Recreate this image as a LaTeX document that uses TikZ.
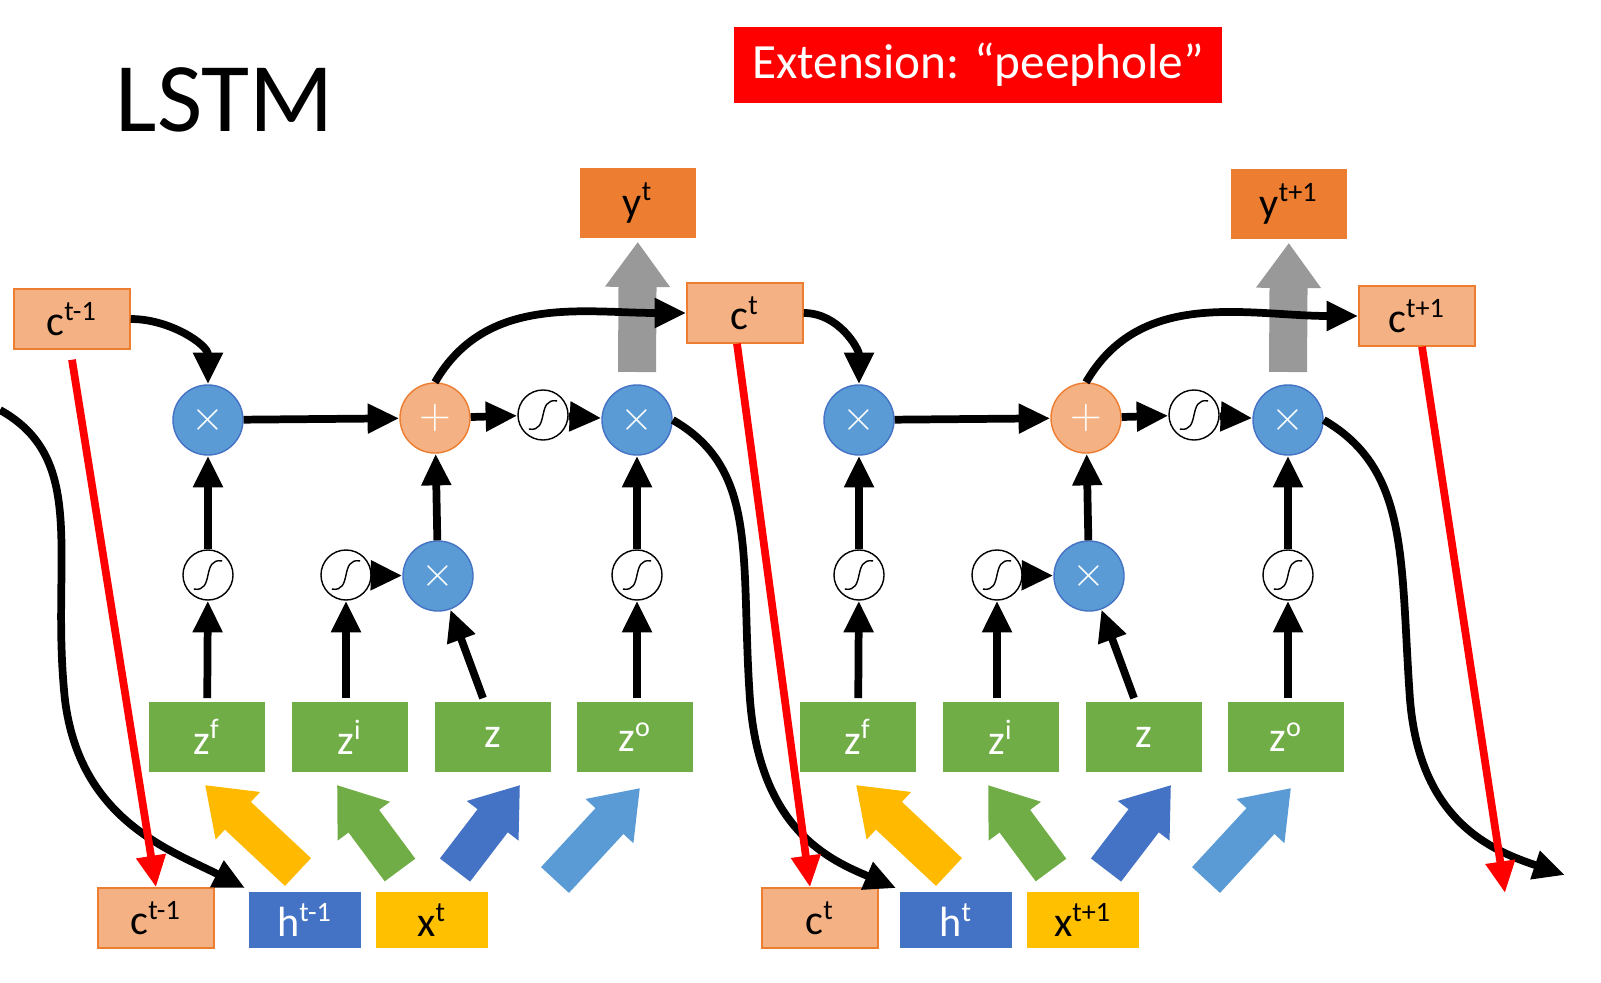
\documentclass[tikz,border=0pt]{standalone}
\usepackage{fontspec}
\setmainfont{Carlito}
\usetikzlibrary{arrows.meta,positioning}
\definecolor{cellfill}{HTML}{F4B183}
\definecolor{cellline}{HTML}{ED7D31}
\definecolor{gatefill}{HTML}{70AD47}
\definecolor{opblue}{HTML}{5B9BD5}
\definecolor{hblue}{HTML}{4472C4}
\definecolor{xyellow}{HTML}{FFC000}
\begin{document}
\begin{tikzpicture}[
            x=0.01cm, y=-0.01cm,
            > = {Triangle[length=9pt,width=8pt]}, % arrow head style
            line width=2.2pt,
            font=\fontsize{12}{14}\selectfont
        ]

        \tikzset{
            cell/.style = {draw=cellline, thin, fill=cellfill, minimum width=1.16cm, minimum height=0.6cm, inner sep=0pt},
            outy/.style = {fill=cellline, minimum width=1.16cm, minimum height=0.7cm, inner sep=0pt},
            gate/.style = {fill=gatefill, text=white, minimum width=1.16cm, minimum height=0.7cm, inner sep=0pt},
            inh/.style = {fill=hblue, text=white, minimum width=1.12cm, minimum height=0.56cm, inner sep=0pt},
            inx/.style = {fill=xyellow, minimum width=1.12cm, minimum height=0.56cm, inner sep=0pt},
            op/.style = {circle, fill=opblue, draw=hblue, thin, text=white, minimum size=0.7cm, inner sep=0pt},
            plus/.style = {circle, fill=cellfill, draw=cellline, thin, text=white, minimum size=0.7cm, inner sep=0pt},
            sig/.style = {circle, draw=black, thin, fill=white, minimum size=0.5cm, inner sep=0pt,
                path picture={\draw[thin] ([xshift=-4pt,yshift=-4pt]path picture bounding box.center) .. controls ([xshift=2pt,yshift=-5pt]path picture bounding box.center) and ([xshift=-2pt,yshift=5pt]path picture bounding box.center) .. ([xshift=4pt,yshift=4pt]path picture bounding box.center);}},
            fat/.style = {line width=0.38cm, -{Triangle[length=0.45cm,width=0.62cm]}, draw=#1},
            peep/.style = {red, line width=2.2pt, -{Triangle[length=9pt,width=8pt]}}
        }
        \useasboundingbox (0,0) rectangle (1601,982);

        \node (title) at (225,100) {\fontsize{28}{30}\selectfont LSTM};
        \node[fill=red, text=white, minimum width=4.87cm, minimum height=0.75cm] (ext) at (978,65) {\fontsize{14}{16}\selectfont Extension: “peephole”};

        % outputs and cell states
        \node[outy] (y1) at (638,203) {y\textsuperscript{t}};
        \node[outy] (y2) at (1289,204) {y\textsuperscript{t+1}};
        \node[cell] (c0) at (72,319) {c\textsuperscript{t-1}};
        \node[cell] (c1) at (745,313) {c\textsuperscript{t}};
        \node[cell] (c2) at (1417,316) {c\textsuperscript{t+1}};

        \foreach \b/\dx/\ct/\cn/\hn/\xn/\yn in {1/0/c0/c1/t-1/t/y1, 2/651/c1/c2/t/t+1/y2}{
            \node[op]   (f\b) at (208+\dx,420) {$\times$};
            \node[plus] (p\b) at (435+\dx,418) {$+$};
            \node[op]   (o\b) at (637+\dx,420) {$\times$};
            \node[op]   (i\b) at (438+\dx,576) {$\times$};
            \node[sig]  (sf\b) at (208+\dx,575) {};
            \node[sig]  (si\b) at (346+\dx,575) {};
            \node[sig]  (so\b) at (637+\dx,575) {};
            \node[sig]  (sc\b) at (543+\dx,415) {};
            \node[gate] (zf\b) at (207+\dx,737) {z\textsuperscript{f}};
            \node[gate] (zi\b) at (350+\dx,737) {z\textsuperscript{i}};
            \node[gate] (zz\b) at (493+\dx,737) {z};
            \node[gate] (zo\b) at (635+\dx,737) {z\textsuperscript{o}};
            \node[cell] (bc\b) at (156+1.02*\dx,918) {c\textsuperscript{\hn}};
            \node[inh]  (bh\b) at (305+\dx,920) {h\textsuperscript{\hn}};
            \node[inx]  (bx\b) at (432+\dx,920) {x\textsuperscript{\xn}};

            % fat input arrows
            \coordinate (a1s\b) at (298+\dx,872); \coordinate (a1e\b) at (205+\dx,785);
            \coordinate (a2s\b) at (400+\dx,870); \coordinate (a2e\b) at (337+\dx,785);
            \coordinate (a3s\b) at (455+\dx,870); \coordinate (a3e\b) at (520+\dx,785);
            \coordinate (a4s\b) at (555+\dx,880); \coordinate (a4e\b) at (640+\dx,788);
            \draw[fat=xyellow!90!orange] (a1s\b) -- (a1e\b);
            \draw[fat=gatefill] (a2s\b) -- (a2e\b);
            \draw[fat=hblue] (a3s\b) -- (a3e\b);
            \draw[fat=opblue] (a4s\b) -- (a4e\b);
            \coordinate (gs\b) at (637+\dx,372);
            \draw[fat=black!40] (gs\b) -- (\yn);

            % connections
            \draw[->] (zf\b) -- (sf\b);
            \draw[->] (sf\b) -- (f\b);
            \draw[->] (zi\b.north -| si\b) -- (si\b);
            \draw[->] (si\b) -- (i\b);
            \draw[->] ([xshift=-0.1cm]zz\b.north) -- (i\b);
            \draw[->] (zo\b.north -| so\b) -- (so\b);
            \draw[->] (so\b) -- (o\b);
            \draw[->] (i\b) -- (p\b);
            \draw[->] (f\b) -- (p\b);
            \draw[->] (p\b) -- (sc\b);
            \draw[->] (sc\b) -- (o\b);
            \draw[->] (\ct.east) to[out=0,in=90] (f\b);
            \draw[->] (p\b.north) to[out=60,in=180] (\cn.west);
        }

        % hidden state paths
        \coordinate (hs) at (0,410);
        \coordinate (he) at (1565,875);
        \draw[->] (hs) .. controls (90,460) and (50,560) .. (65,700) .. controls (80,820) and (170,850) .. (bh1.north west);
        \draw[->] (o1.east) .. controls (760,470) and (740,560) .. (750,700) .. controls (760,830) and (830,860) .. (bh2.north west);
        \draw[->] (o2.east) .. controls (1410,470) and (1400,560) .. (1410,700) .. controls (1420,820) and (1490,850) .. (he);

        % peepholes
        \coordinate (pe) at (1505,893);
        \draw[peep] ([yshift=-0.1cm]c0.south) -- (bc1.north);
        \draw[peep] ([xshift=-0.08cm]c1.south) -- ([xshift=-0.1cm]bc2.north);
        \draw[peep] ([xshift=0.05cm]c2.south) -- (pe);

    \end{tikzpicture}
\end{document}
